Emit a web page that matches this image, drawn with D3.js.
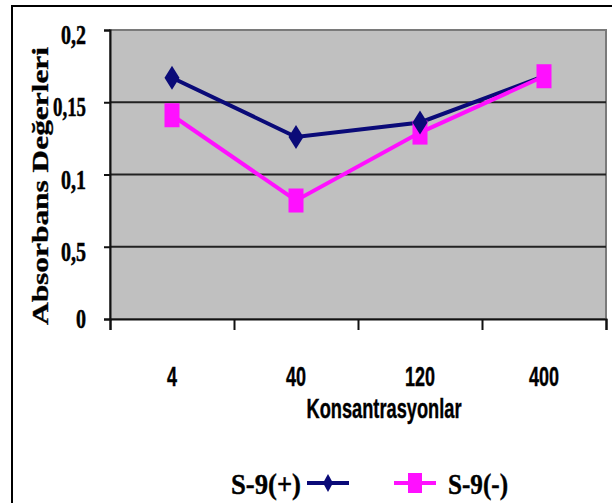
<!DOCTYPE html>
<html><head><meta charset="utf-8">
<script src="https://cdn.jsdelivr.net/npm/d3@7"></script>
<style>html,body{margin:0;padding:0;background:#fff;}svg{display:block;}</style>
</head><body>
<script>
const categories = ["4", "40", "120", "400"];
const seriesNames = ["S-9(+)", "S-9(-)"];
const plusValues = [0.167, 0.126, 0.136, 0.168];
const minusValues = [0.141, 0.082, 0.129, 0.168];
const yTickValues = [0, 0.05, 0.1, 0.15, 0.2];
const yTickLabels = ["0", "0,5", "0,1", "0,15", "0,2"];
const yTitle = "Absorbans Değerleri";
const xTitle = "Konsantrasyonlar";

const W = 612, H = 503;
const svg = d3.select("body").append("svg").attr("width", W).attr("height", H);
svg.append("rect").attr("width", W).attr("height", H).attr("fill", "#fff");
svg.append("path").attr("d", `M12,${H} L12,6 L${W},6`).attr("fill", "none").attr("stroke", "#000").attr("stroke-width", 2);

const L = 110, R = 606, T = 30, B = 319;
const x = d3.scaleBand().domain(categories).range([L, R]);
const y = d3.scaleLinear().domain([0, 0.2]).range([B, T]);
const serif = "Liberation Serif, Times New Roman, serif";
const sans = "Liberation Sans, Arial, sans-serif";

svg.append("rect").attr("x", L).attr("y", T).attr("width", R - L).attr("height", B - T)
  .attr("fill", "#c0c0c0").attr("stroke", "#7a7a7a").attr("stroke-width", 2);

svg.append("g").selectAll("line").data(yTickValues.slice(1, 4)).join("line")
  .attr("x1", L).attr("x2", R).attr("y1", d => y(d)).attr("y2", d => y(d))
  .attr("stroke", "#222").attr("stroke-width", 2);

const yAxis = svg.append("g").attr("transform", `translate(${L},0)`)
  .call(d3.axisLeft(y).tickValues(yTickValues).tickSize(6).tickFormat(() => ""));
yAxis.select(".domain").attr("stroke", "#111").attr("stroke-width", 2);
yAxis.selectAll(".tick line").attr("stroke", "#111").attr("stroke-width", 2);

const labW = {"0": 10, "0,5": 25, "0,1": 25, "0,15": 33, "0,2": 25};
svg.append("g").selectAll("text").data(yTickValues).join("text")
  .attr("x", 86).attr("y", d => y(d) + 14 - (d === 0 ? 5 : 0))
  .attr("text-anchor", "end")
  .attr("font-family", serif).attr("font-weight", "bold").attr("font-size", 27)
  .attr("stroke", "#000").attr("stroke-width", 0.5)
  .attr("textLength", (d, i) => labW[yTickLabels[i]])
  .attr("lengthAdjust", "spacingAndGlyphs")
  .text((d, i) => yTickLabels[i]);

const xb = d3.scaleLinear().domain([0, categories.length]).range([L, R]);
const xAxis = svg.append("g").attr("transform", `translate(0,${B})`)
  .call(d3.axisBottom(xb).tickValues(d3.range(categories.length + 1)).tickSize(11).tickFormat(""));
xAxis.select(".domain").attr("stroke", "#111").attr("stroke-width", 2);
xAxis.selectAll(".tick line").attr("stroke", "#111").attr("stroke-width", 2);

svg.append("g").selectAll("text").data(categories).join("text")
  .attr("x", d => x(d) + x.bandwidth() / 2).attr("y", 386)
  .attr("text-anchor", "middle")
  .attr("font-family", sans).attr("font-weight", "bold").attr("font-size", 27)
  .attr("stroke", "#000").attr("stroke-width", 0.4)
  .attr("textLength", d => d.length * 10)
  .attr("lengthAdjust", "spacingAndGlyphs")
  .text(d => d);

svg.append("text").attr("x", 384).attr("y", 418).attr("text-anchor", "middle")
  .attr("font-family", sans).attr("font-weight", "bold").attr("font-size", 27)
  .attr("stroke", "#000").attr("stroke-width", 0.4)
  .attr("textLength", 155).attr("lengthAdjust", "spacingAndGlyphs")
  .text(xTitle);

svg.append("text").attr("transform", "translate(48,186) rotate(-90) scale(1,0.85)")
  .attr("text-anchor", "middle")
  .attr("font-family", serif).attr("font-weight", "bold").attr("font-size", 28)
  .attr("stroke", "#000").attr("stroke-width", 0.4)
  .attr("textLength", 278).attr("lengthAdjust", "spacingAndGlyphs")
  .text(yTitle);

const cx = d => x(d) + x.bandwidth() / 2;
const line = d3.line().x(d => cx(d[0])).y(d => y(d[1]));
const plusData = categories.map((c, i) => [c, plusValues[i]]);
const minusData = categories.map((c, i) => [c, minusValues[i]]);

const navy = "#0a0a78", pink = "#ff10ff";
svg.append("path").datum(plusData).attr("d", line).attr("fill", "none").attr("stroke", navy).attr("stroke-width", 4);
svg.append("path").datum(minusData).attr("d", line).attr("fill", "none").attr("stroke", pink).attr("stroke-width", 4);

svg.append("g").selectAll("rect").data(minusData).join("rect")
  .attr("x", d => cx(d[0]) - 7.5).attr("y", d => y(d[1]) - 12)
  .attr("width", 15).attr("height", 24).attr("fill", pink);
const diamond = (w, h) => `M0,${-h/2} L${w/2},0 L0,${h/2} L${-w/2},0 Z`;
svg.append("g").selectAll("path").data(plusData.slice(0, 3)).join("path")
  .attr("transform", d => `translate(${cx(d[0])},${y(d[1])})`)
  .attr("d", diamond(15, 24)).attr("fill", navy);

const legY = 483;
svg.append("text").attr("x", 301).attr("y", legY + 11).attr("text-anchor", "end")
  .attr("font-family", serif).attr("font-weight", "bold").attr("font-size", 29)
  .attr("stroke", "#000").attr("stroke-width", 0.4)
  .attr("textLength", 70).attr("lengthAdjust", "spacingAndGlyphs")
  .text(seriesNames[0]);
svg.append("line").attr("x1", 307).attr("x2", 349).attr("y1", legY).attr("y2", legY).attr("stroke", navy).attr("stroke-width", 4);
svg.append("path").attr("transform", `translate(328,${legY})`).attr("d", diamond(10, 18)).attr("fill", navy);
svg.append("line").attr("x1", 394).attr("x2", 436).attr("y1", legY).attr("y2", legY).attr("stroke", pink).attr("stroke-width", 4);
svg.append("rect").attr("x", 408).attr("y", legY - 10).attr("width", 14).attr("height", 20).attr("fill", pink);
svg.append("text").attr("x", 448).attr("y", legY + 11).attr("text-anchor", "start")
  .attr("font-family", serif).attr("font-weight", "bold").attr("font-size", 29)
  .attr("stroke", "#000").attr("stroke-width", 0.4)
  .attr("textLength", 60).attr("lengthAdjust", "spacingAndGlyphs")
  .text(seriesNames[1]);
</script>
</body></html>
